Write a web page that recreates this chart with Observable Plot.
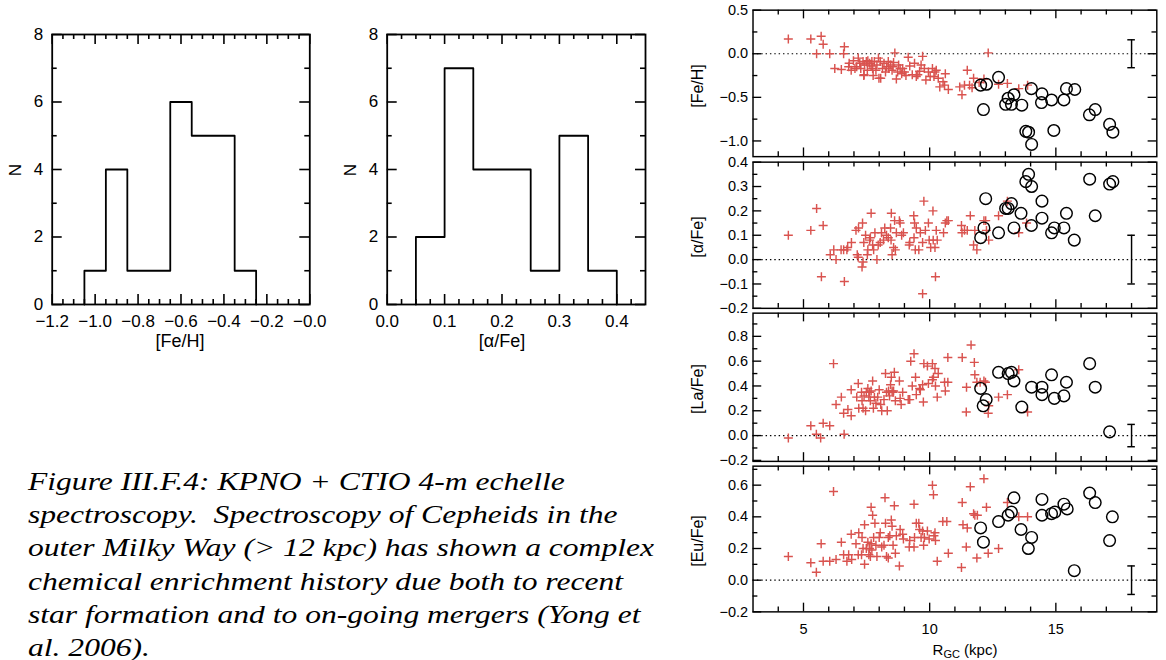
<!DOCTYPE html>
<html><head><meta charset="utf-8">
<script src="https://cdn.jsdelivr.net/npm/d3@7"></script>
<script src="https://cdn.jsdelivr.net/npm/@observablehq/plot@0.6"></script>
<style>
html,body{margin:0;padding:0;overflow:hidden;background:#fff;width:1166px;height:660px}
#root{position:relative;width:1166px;height:660px;overflow:hidden;font-family:"Liberation Sans",Arial,sans-serif;color:#000}
.abs{position:absolute}
.ttl{position:absolute;white-space:nowrap;transform:translate(-50%,-50%);line-height:1}
.rot{transform:translate(-50%,-50%) rotate(-90deg)}
.cap{position:absolute;left:28px;font-family:"Liberation Serif","Times New Roman",Times,"Nimbus Roman",Tinos,serif;font-style:italic;font-size:25.5px;line-height:30px;white-space:pre;transform-origin:0 50%}
</style></head><body><div id="root"></div>
<script>
// ---------------- DATA ----------------
// Histograms
const feBinEdges = [-1.05,-0.95,-0.85,-0.75,-0.65,-0.55,-0.45,-0.35,-0.25];
const feCounts = [1,4,1,1,6,5,5,1];
const alphaBinEdges = [0.05,0.10,0.15,0.20,0.25,0.30,0.35,0.40];
const alphaCounts = [2,7,4,4,1,5,1];
const feHistTicks = [-1.2,-1.0,-0.8,-0.6,-0.4,-0.2,0.0];
const alphaHistTicks = [0.0,0.1,0.2,0.3,0.4];
const countTicks = [0,2,4,6,8];

// Scatter panels: [R_GC (kpc), abundance]
const feField = [[4.40,0.17],[5.29,0.17],[5.70,0.20],[5.78,0.11],[5.52,0.0],[6.04,0.0],[6.62,0.08],[6.59,0.0],[6.24,-0.17],[6.50,-0.18],[6.81,-0.11],[6.89,-0.19],[7.04,-0.17],[7.17,-0.05],[7.23,-0.11],[7.36,-0.09],[7.42,-0.13],[7.49,-0.09],[7.55,-0.08],[7.62,-0.11],[7.68,-0.14],[7.74,-0.17],[7.81,-0.09],[7.40,-0.24],[7.87,-0.19],[7.97,-0.05],[8.06,-0.28],[8.13,-0.17],[8.19,-0.11],[8.29,-0.15],[8.36,-0.09],[8.45,-0.13],[8.51,-0.19],[8.57,-0.10],[8.62,0.01],[8.68,-0.29],[8.73,-0.21],[8.83,-0.17],[8.89,-0.23],[9.00,-0.21],[9.15,-0.04],[9.21,-0.14],[9.40,-0.11],[9.31,-0.24],[9.47,-0.26],[9.60,-0.20],[9.72,-0.03],[9.79,-0.17],[9.85,-0.30],[9.95,-0.21],[10.11,-0.17],[10.17,-0.26],[10.26,-0.19],[10.34,-0.28],[10.53,-0.32],[10.62,-0.23],[10.74,-0.41],[10.59,-0.36],[11.28,-0.47],[11.38,-0.36],[11.49,-0.19],[11.68,-0.39],[11.74,-0.28],[11.96,-0.33],[12.15,-0.29],[12.32,0.01],[6.98,-0.08],[7.11,-0.15],[7.27,-0.17],[7.53,-0.19],[7.71,-0.09],[7.91,-0.13],[8.04,-0.09],[8.25,-0.21],[8.38,-0.17],[8.55,-0.15],[8.77,-0.13],[8.93,-0.17],[9.06,-0.25],[9.53,-0.24],[9.66,-0.13],[10.02,-0.26],[10.21,-0.21],[10.40,-0.38],[11.19,-0.38],[11.58,-0.36],[12.73,-0.35],[13.08,-0.34],[13.53,-0.40],[13.88,-0.36],[6.79,-0.15],[7.39,-0.25],[7.76,-0.25],[7.99,-0.28]];
const feOuter = [[12.02,-0.36],[12.25,-0.35],[12.13,-0.64],[12.73,-0.27],[13.01,-0.58],[13.11,-0.51],[13.24,-0.58],[13.34,-0.47],[13.65,-0.59],[13.81,-0.89],[13.92,-0.90],[14.04,-1.04],[14.03,-0.40],[14.45,-0.46],[14.43,-0.56],[14.83,-0.53],[14.92,-0.88],[15.32,-0.53],[15.42,-0.40],[15.75,-0.41],[16.33,-0.70],[16.56,-0.64],[17.13,-0.81],[17.26,-0.90]];

const alphaField = [[4.40,0.10],[5.29,0.12],[5.52,0.21],[5.78,0.14],[5.71,-0.07],[6.62,-0.09],[6.06,0.02],[6.20,0.04],[6.29,0.0],[6.49,0.04],[6.59,0.04],[6.75,0.05],[6.72,0.04],[6.90,0.07],[7.08,0.12],[7.18,0.13],[7.34,0.15],[7.13,0.02],[7.17,0.01],[7.32,-0.03],[7.36,-0.01],[7.39,0.07],[7.46,0.10],[7.53,0.02],[7.55,0.04],[7.62,0.08],[7.65,0.09],[7.68,0.19],[7.74,0.06],[7.78,0.04],[7.83,0.11],[7.91,0.0],[7.96,0.06],[8.04,0.07],[8.09,0.11],[8.17,0.08],[8.22,0.13],[8.29,0.10],[8.36,0.09],[8.45,0.13],[8.47,0.08],[8.48,0.19],[8.51,0.02],[8.57,0.05],[8.61,0.16],[8.64,0.04],[8.68,0.11],[8.80,0.16],[8.83,0.15],[8.89,0.10],[8.96,0.11],[9.19,0.06],[9.21,0.07],[9.37,0.18],[9.38,0.09],[9.40,0.15],[9.47,0.13],[9.43,0.04],[9.57,0.04],[9.63,0.11],[9.72,0.07],[9.77,0.24],[9.83,0.12],[9.95,0.15],[9.98,0.08],[10.04,0.05],[10.13,0.20],[10.14,0.08],[10.21,0.05],[10.23,-0.07],[10.26,0.12],[10.30,0.08],[10.55,0.11],[10.62,0.15],[10.68,0.16],[10.74,0.16],[9.72,-0.14],[11.26,0.14],[11.28,0.11],[11.38,0.12],[11.49,0.12],[11.61,0.18],[11.74,0.06],[11.79,0.12],[11.87,0.04],[12.15,0.16],[13.08,0.24],[13.53,0.11],[13.84,0.15],[12.34,0.08],[12.73,0.18],[12.22,0.16],[12.25,0.12]];
const alphaOuter = [[12.02,0.09],[12.15,0.13],[12.22,0.25],[12.73,0.11],[13.01,0.21],[13.11,0.21],[13.24,0.23],[13.34,0.13],[13.62,0.19],[13.81,0.32],[13.92,0.35],[14.04,0.30],[14.03,0.14],[14.45,0.24],[14.45,0.17],[14.83,0.11],[14.94,0.13],[15.32,0.13],[15.42,0.19],[15.73,0.08],[16.34,0.33],[16.56,0.18],[17.13,0.31],[17.26,0.32]];

const laField = [[4.40,-0.02],[5.29,0.08],[5.51,0.01],[5.68,-0.02],[5.78,0.10],[6.04,0.08],[6.19,0.58],[6.61,0.01],[6.29,0.25],[6.50,0.31],[6.59,0.18],[6.76,0.21],[6.89,0.16],[6.89,0.37],[7.11,0.31],[7.17,0.42],[7.19,0.22],[7.30,0.35],[7.32,0.28],[7.36,0.22],[7.40,0.32],[7.46,0.20],[7.49,0.35],[7.55,0.38],[7.59,0.31],[7.62,0.35],[7.65,0.28],[7.68,0.36],[7.74,0.44],[7.77,0.22],[7.81,0.31],[7.87,0.26],[7.94,0.31],[8.00,0.37],[8.06,0.25],[8.10,0.20],[8.19,0.29],[8.25,0.50],[8.29,0.35],[8.32,0.20],[8.37,0.36],[8.41,0.32],[8.45,0.41],[8.48,0.47],[8.51,0.36],[8.55,0.35],[8.57,0.36],[8.60,0.51],[8.64,0.28],[8.80,0.44],[8.83,0.30],[8.87,0.25],[8.93,0.35],[9.15,0.29],[9.21,0.29],[9.25,0.60],[9.38,0.66],[9.31,0.40],[9.44,0.47],[9.47,0.33],[9.60,0.38],[9.63,0.37],[9.72,0.41],[9.75,0.27],[9.77,0.58],[9.91,0.56],[9.95,0.42],[10.11,0.58],[10.11,0.45],[10.15,0.47],[10.21,0.54],[10.23,0.40],[10.30,0.31],[10.34,0.50],[10.59,0.43],[10.62,0.36],[10.72,0.43],[10.72,0.63],[11.29,0.63],[11.45,0.19],[11.64,0.73],[11.77,0.59],[11.79,0.49],[11.87,0.43],[12.00,0.43],[12.15,0.44],[12.21,0.43],[12.32,0.18],[11.46,0.39],[12.34,0.24],[12.73,0.31],[13.08,0.33],[13.53,0.53],[13.88,0.19]];
const laOuter = [[12.02,0.38],[12.12,0.24],[12.24,0.29],[12.73,0.51],[13.11,0.50],[13.24,0.51],[13.34,0.44],[13.65,0.23],[14.04,0.39],[14.45,0.39],[14.45,0.33],[14.83,0.49],[14.94,0.30],[15.32,0.32],[15.42,0.43],[16.34,0.58],[16.56,0.39],[17.13,0.03]];

const euField = [[4.40,0.15],[5.29,0.11],[5.51,0.05],[5.70,0.23],[5.78,0.12],[6.04,0.12],[6.19,0.56],[6.29,0.13],[6.50,0.24],[6.59,0.16],[6.72,0.12],[6.79,0.16],[6.89,0.29],[6.91,0.13],[7.08,0.23],[7.17,0.16],[7.19,0.30],[7.30,0.16],[7.32,0.27],[7.36,0.20],[7.42,0.10],[7.42,0.35],[7.49,0.20],[7.55,0.24],[7.59,0.16],[7.62,0.20],[7.65,0.15],[7.68,0.46],[7.68,0.23],[7.71,0.19],[7.74,0.41],[7.78,0.27],[7.83,0.36],[7.87,0.22],[7.91,0.15],[8.00,0.27],[8.04,0.30],[8.10,0.21],[8.19,0.22],[8.23,0.52],[8.25,0.36],[8.29,0.15],[8.36,0.14],[8.36,0.27],[8.42,0.28],[8.48,0.38],[8.51,0.34],[8.55,0.22],[8.60,0.47],[8.64,0.17],[8.68,0.28],[8.80,0.09],[8.83,0.32],[8.93,0.29],[8.96,0.26],[9.19,0.21],[9.21,0.25],[9.38,0.48],[9.38,0.21],[9.40,0.27],[9.47,0.36],[9.57,0.36],[9.60,0.32],[9.66,0.27],[9.72,0.31],[9.76,0.22],[9.79,0.27],[9.91,0.31],[9.98,0.26],[10.11,0.60],[10.15,0.54],[10.17,0.28],[10.21,0.30],[10.23,0.25],[10.30,0.12],[10.52,0.37],[10.68,0.37],[10.74,0.17],[11.26,0.08],[11.29,0.49],[11.32,0.35],[11.45,0.21],[11.49,0.33],[11.61,0.59],[11.74,0.42],[11.79,0.41],[11.87,0.14],[11.89,0.41],[12.15,0.64],[12.25,0.46],[12.32,0.17],[12.73,0.20],[13.08,0.49],[13.53,0.40],[13.88,0.40]];
const euOuter = [[12.02,0.33],[12.13,0.24],[12.73,0.37],[13.11,0.41],[13.24,0.43],[13.34,0.52],[13.62,0.32],[13.91,0.20],[14.04,0.27],[14.45,0.51],[14.45,0.41],[14.83,0.42],[14.96,0.43],[15.32,0.48],[15.45,0.45],[15.73,0.06],[16.34,0.55],[16.56,0.49],[17.13,0.25],[17.24,0.40]];

// Typical error bars (R position, half-size)
const errR = 18;
const errHalf = [0.16, 0.10, 0.09, 0.09];

const panelLabels = ["[Fe/H]", "[α/Fe]", "[La/Fe]", "[Eu/Fe]"];
const rTicks = [5, 10, 15];
const panelTicks = [[0.5,0.0,-0.5,-1.0],[0.4,0.3,0.2,0.1,0.0,-0.1,-0.2],[0.8,0.6,0.4,0.2,0.0,-0.2],[0.6,0.4,0.2,0.0,-0.2]];
const panelMinor = [[0.25,-0.25,-0.75],[0.35,0.25,0.15,0.05,-0.05,-0.15],[0.9,0.7,0.5,0.3,0.1,-0.1],[0.7,0.5,0.3,0.1,-0.1]];

// ---------------- DRAWING ----------------
const root = document.getElementById("root");
const RED = "#d9534f";
const f1 = d3.format(".1f");
const r3 = v => Math.round(v * 1000) / 1000;

function place(el, left, top) {
  const d = document.createElement("div");
  d.className = "abs";
  d.style.left = left + "px";
  d.style.top = top + "px";
  d.appendChild(el);
  root.appendChild(d);
}
function title(html, x, y, size, rotate) {
  const d = document.createElement("div");
  d.className = "ttl" + (rotate ? " rot" : "");
  d.style.left = x + "px"; d.style.top = y + "px";
  d.style.fontSize = size + "px";
  d.innerHTML = html;
  root.appendChild(d);
}

// Inward ticks on all four sides (IDL style): frame-spanning ticks inset to a short length
function boxTicks({fw, fh, xMaj, xMin, yMaj, yMin, maj, min, sw}) {
  const m = [];
  const st = {stroke: "#000", strokeWidth: sw};
  for (const [vals, L] of [[xMaj, maj], [xMin, min]]) {
    m.push(Plot.tickX(vals.map(v => ({v})), {x: "v", insetTop: fh - L, ...st}));
    m.push(Plot.tickX(vals.map(v => ({v})), {x: "v", insetBottom: fh - L, ...st}));
  }
  for (const [vals, L] of [[yMaj, maj], [yMin, min]]) {
    m.push(Plot.tickY(vals.map(v => ({v})), {y: "v", insetRight: fw - L, ...st}));
    m.push(Plot.tickY(vals.map(v => ({v})), {y: "v", insetLeft: fw - L, ...st}));
  }
  return m;
}

function histogram({edges, counts, xDom, xMaj, xFmt, minorStep, left, frameW, ml}) {
  const pts = [{x: edges[0], y: 0}];
  counts.forEach((c, i) => pts.push({x: edges[i], y: c}));
  pts.push({x: edges[edges.length - 1], y: 0});
  const xMin = d3.range(Math.round((xDom[1] - xDom[0]) / minorStep) + 1)
    .map(i => r3(xDom[0] + i * minorStep))
    .filter(v => !xMaj.some(t => Math.abs(t - v) < 1e-6) && v > xDom[0] && v < xDom[1]);
  const mt = 34, mb = 50, mr = 15, fh = 270, yDom = [0, 8];
  const p = Plot.plot({
    width: ml + frameW + mr, height: mt + fh + mb,
    marginLeft: ml, marginRight: mr, marginTop: mt, marginBottom: mb,
    style: {background: "transparent", overflow: "visible", fontFamily: "'Liberation Sans', Arial, sans-serif", fontSize: "17px", color: "#000"},
    x: {domain: xDom},
    y: {domain: yDom},
    marks: [
      ...boxTicks({fw: frameW, fh, xMaj, xMin, yMaj: countTicks, yMin: [1,3,5,7], maj: 10, min: 5, sw: 1.6}),
      Plot.axisX(xMaj, {anchor: "bottom", tickSize: 0, tickPadding: 10, tickFormat: xFmt, label: null}),
      Plot.axisY(countTicks, {anchor: "left", tickSize: 0, tickPadding: 9, tickFormat: d => String(d), label: null}),
      Plot.line(pts, {x: "x", y: "y", curve: "step-after", stroke: "#000", strokeWidth: 1.8}),
      Plot.frame({stroke: "#000", strokeWidth: 1.8})
    ]
  });
  place(p, left, 0);
}

histogram({edges: feBinEdges, counts: feCounts, xDom: [-1.2, 0], xMaj: feHistTicks,
  xFmt: d => d === 0 ? "−0.0" : f1(d), minorStep: 0.05, left: 0, ml: 51.7, frameW: 257.6});
histogram({edges: alphaBinEdges, counts: alphaCounts, xDom: [0, 0.45], xMaj: alphaHistTicks,
  xFmt: f1, minorStep: 0.025, left: 340, ml: 46.7, frameW: 258.3});

title("N", 15, 170, 17, true);
title("[Fe/H]", 180, 341, 18, false);
title("N", 350, 170, 17, true);
title("[α/Fe]", 502, 341, 18, false);

// Right-hand stacked panels
const frames = [[10, 161.5], [161.5, 312.7], [312.7, 466], [466, 616.7]];
const domains = [[-1.18, 0.5], [-0.2, 0.4], [-0.208, 0.987], [-0.2, 0.72]];
const fields = [feField, alphaField, laField, euField];
const outers = [feOuter, alphaOuter, laOuter, euOuter];
const rMinor = d3.range(4, 19).filter(v => !rTicks.includes(v));
const xDomR = [3, 19];

frames.forEach(([top, bottom], i) => {
  const last = i === 3;
  const mt = 10, mb = last ? 45 : 10, ml = 75, mr = 10, fw = 417.6, fh = bottom - top;
  const yDom = domains[i];
  const e = errHalf[i];
  const caps = [{r: errR, y: e}, {r: errR, y: -e}];
  const marks = [
    ...boxTicks({fw, fh, xMaj: rTicks, xMin: rMinor, yMaj: panelTicks[i], yMin: panelMinor[i], maj: 9, min: 5, sw: 1.4}),
    Plot.axisY(panelTicks[i], {anchor: "left", tickSize: 0, tickPadding: 5, tickFormat: f1, label: null}),
    Plot.ruleY([0], {stroke: "#000", strokeWidth: 1.2, strokeDasharray: "1.5,3"}),
    Plot.dot(fields[i], {x: d => d[0], y: d => d[1], symbol: "plus", r: 3.1, stroke: RED, strokeWidth: 1.5}),
    Plot.dot(outers[i], {x: d => d[0], y: d => d[1], r: 6, stroke: "#000", strokeWidth: 1.5, fill: "none"}),
    Plot.ruleX([{r: errR, e}], {x: "r", y1: d => -d.e, y2: d => d.e, stroke: "#000", strokeWidth: 1.5}),
    Plot.ruleY(caps, {y: "y", x1: d => d.r - 0.15, x2: d => d.r + 0.15, stroke: "#000", strokeWidth: 1.5}),
    Plot.frame({stroke: "#000", strokeWidth: 1.5})
  ];
  if (last) marks.push(Plot.axisX(rTicks, {anchor: "bottom", tickSize: 0, tickPadding: 12, tickFormat: d => String(d), label: null}));
  else marks.push(Plot.axisX([], {anchor: "bottom", tickSize: 0, label: null}));
  const p = Plot.plot({
    width: ml + fw + mr, height: mt + fh + mb,
    marginLeft: ml, marginRight: mr, marginTop: mt, marginBottom: mb,
    style: {background: "transparent", overflow: "visible", fontFamily: "'Liberation Sans', Arial, sans-serif", fontSize: "15px", color: "#000"},
    x: {domain: xDomR},
    y: {domain: yDom},
    marks
  });
  place(p, 680, top - mt);
  title(panelLabels[i], 698, (top + bottom) / 2, 16, true);
});
title("R<sub style='font-size:11px;vertical-align:-3px'>GC</sub> (kpc)", 965, 651, 15, false);

// Caption
const captionLines = [
  "Figure III.F.4: KPNO + CTIO 4-m echelle",
  "spectroscopy.  Spectroscopy of Cepheids in the",
  "outer Milky Way (> 12 kpc) has shown a complex",
  "chemical enrichment history due both to recent",
  "star formation and to on-going mergers (Yong et",
  "al. 2006)."
];
const probe = document.createElement("span");
probe.className = "cap";
probe.style.visibility = "hidden";
probe.textContent = captionLines[2];
root.appendChild(probe);
const sx = 626 / probe.getBoundingClientRect().width;
probe.remove();
captionLines.forEach((t, i) => {
  const d = document.createElement("div");
  d.className = "cap";
  d.style.top = (467 + i * 33.2) + "px";
  d.style.transform = `scaleX(${sx})`;
  d.textContent = t;
  root.appendChild(d);
});
</script></body></html>
